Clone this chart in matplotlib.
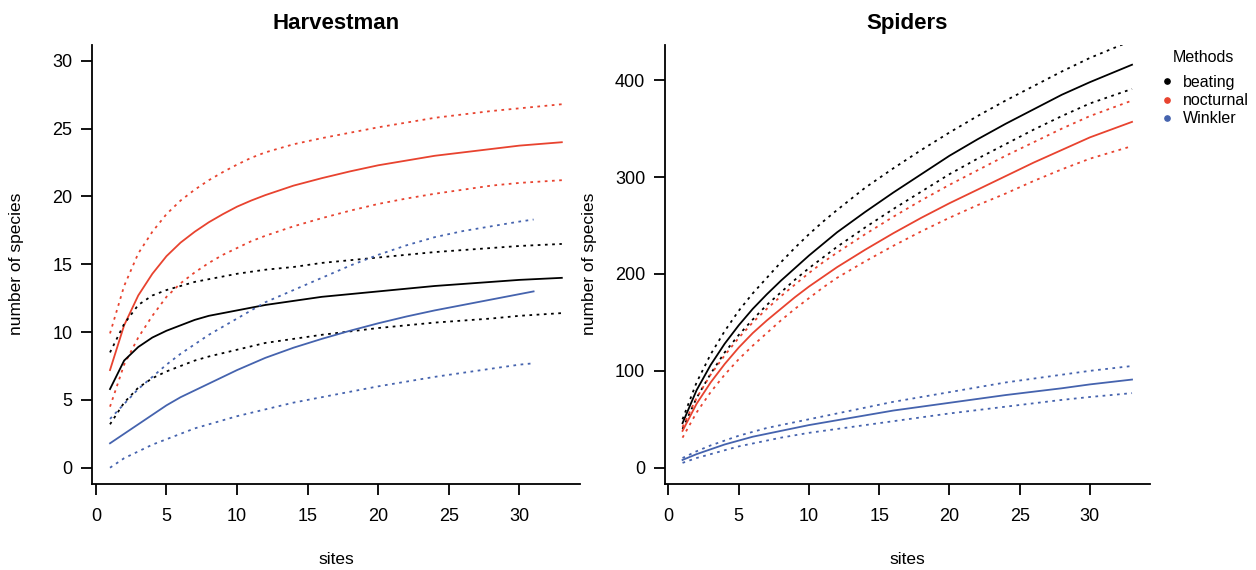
import matplotlib
matplotlib.use("Agg")
import matplotlib.pyplot as plt
from matplotlib.lines import Line2D

plt.rcParams["font.family"] = ["Liberation Sans", "DejaVu Sans"]

# ==========================================
# Data
# ==========================================

sites = [1, 2, 3, 4, 5, 6, 7, 8, 9, 10, 11, 12, 14, 16, 18, 20, 22, 24, 26, 28, 30, 33]
sites_harv_winkler = [1, 2, 3, 4, 5, 6, 7, 8, 9, 10, 11, 12, 14, 16, 18, 20, 22, 24, 26, 28, 30, 31]

methods = ["beating", "nocturnal", "Winkler"]

# Harvestman
harv_beating = [5.8, 7.9, 8.9, 9.6, 10.1, 10.5, 10.9, 11.2, 11.4, 11.6, 11.8, 12.0,
                12.3, 12.6, 12.8, 13.0, 13.2, 13.4, 13.55, 13.7, 13.85, 14.0]
harv_beating_hi = [8.5, 10.6, 12.0, 12.7, 13.1, 13.4, 13.7, 13.9, 14.1, 14.3, 14.45, 14.6,
                   14.8, 15.1, 15.3, 15.5, 15.7, 15.9, 16.05, 16.2, 16.35, 16.5]
harv_beating_lo = [3.2, 4.8, 5.9, 6.6, 7.1, 7.5, 7.9, 8.2, 8.45, 8.7, 8.95, 9.2,
                   9.5, 9.8, 10.05, 10.3, 10.5, 10.7, 10.85, 11.0, 11.2, 11.4]

harv_nocturnal = [7.2, 10.5, 12.7, 14.3, 15.6, 16.6, 17.4, 18.1, 18.7, 19.25, 19.7, 20.1,
                  20.8, 21.35, 21.85, 22.3, 22.65, 23.0, 23.25, 23.5, 23.75, 24.0]
harv_nocturnal_hi = [9.9, 13.4, 15.8, 17.4, 18.7, 19.7, 20.5, 21.2, 21.8, 22.35, 22.85, 23.25,
                     23.85, 24.3, 24.7, 25.1, 25.45, 25.8, 26.05, 26.3, 26.5, 26.8]
harv_nocturnal_lo = [4.5, 7.6, 9.6, 11.2, 12.6, 13.6, 14.4, 15.1, 15.7, 16.2, 16.7, 17.1,
                     17.8, 18.4, 18.95, 19.45, 19.85, 20.2, 20.5, 20.8, 21.0, 21.2]

harv_winkler = [1.8, 2.5, 3.2, 3.9, 4.6, 5.2, 5.7, 6.2, 6.7, 7.2, 7.65, 8.1,
                8.85, 9.5, 10.1, 10.65, 11.15, 11.6, 12.0, 12.4, 12.8, 13.0]
harv_winkler_hi = [3.6, 4.7, 5.8, 6.7, 7.6, 8.4, 9.1, 9.8, 10.4, 11.0, 11.6, 12.2,
                   13.1, 14.0, 14.9, 15.7, 16.4, 17.0, 17.45, 17.8, 18.15, 18.3]
harv_winkler_lo = [0.0, 0.7, 1.2, 1.7, 2.1, 2.5, 2.9, 3.2, 3.5, 3.8, 4.05, 4.3,
                   4.8, 5.2, 5.6, 6.0, 6.35, 6.7, 7.0, 7.3, 7.6, 7.7]

# Spiders
spid_beating = [46, 80, 106, 128, 147, 164, 179, 193, 206, 219, 231, 243,
                264, 284, 303, 322, 339, 355, 370, 385, 398, 416]
spid_beating_hi = [50, 88, 117, 141, 162, 180, 196, 212, 227, 241, 254, 266,
                   289, 309, 328, 346, 363, 379, 394, 409, 423, 441]
spid_beating_lo = [40, 72, 97, 119, 137, 153, 168, 181, 194, 206, 217, 228,
                   248, 267, 285, 303, 319, 334, 349, 363, 376, 391]

spid_nocturnal = [38, 66, 88, 107, 124, 139, 152, 164, 176, 187, 197, 207,
                  225, 242, 258, 273, 287, 301, 315, 328, 341, 357]
spid_nocturnal_hi = [42, 72, 96, 116, 134, 150, 164, 177, 189, 201, 212, 222,
                     241, 259, 276, 292, 307, 322, 336, 350, 363, 379]
spid_nocturnal_lo = [31, 57, 78, 96, 112, 126, 139, 152, 164, 175, 186, 196,
                     213, 229, 244, 258, 271, 283, 296, 308, 319, 332]

spid_winkler = [8, 14, 19, 24, 28, 32, 35, 38, 41, 44, 46.5, 49,
                54, 59, 63, 67, 71, 75, 78.5, 82, 86, 91]
spid_winkler_hi = [10, 17, 23, 28, 33, 37, 41, 44, 47, 50, 53, 56,
                   62, 68, 73, 78, 83, 88, 92, 96, 100, 105]
spid_winkler_lo = [5, 10, 14, 18, 22, 25, 28, 31, 33.5, 36, 38, 40,
                   44, 48, 52, 56, 59.5, 63, 66.5, 70, 73, 77]

colors = {"beating": "#000000", "nocturnal": "#E8432F", "Winkler": "#4563AE"}

# ==========================================
# Figure
# ==========================================

fig = plt.figure(figsize=(12.56, 5.70), dpi=100)

ax1 = fig.add_axes([0.0732, 0.1509, 0.3885, 0.7709])
ax2 = fig.add_axes([0.5291, 0.1509, 0.3865, 0.7709])

dotted = (0, (1.5, 2.5))


def draw_method(ax, x, mean, lo, hi, color):
    ax.plot(x, mean, color=color, lw=1.3)
    ax.plot(x, hi, color=color, lw=1.3, linestyle=dotted)
    ax.plot(x, lo, color=color, lw=1.3, linestyle=dotted)


def style_axes(ax, title, ylim, yticks):
    ax.set_xlim(-0.28, 34.28)
    ax.set_ylim(*ylim)
    ax.set_xticks([0, 5, 10, 15, 20, 25, 30])
    ax.set_yticks(yticks)
    for side in ["top", "right"]:
        ax.spines[side].set_visible(False)
    for side in ["left", "bottom"]:
        ax.spines[side].set_linewidth(1.3)
    ax.tick_params(direction="out", length=8, width=1.3, labelsize=13)
    ax.tick_params(axis="y", pad=6)
    ax.tick_params(axis="x", pad=9)
    ax.set_title(title, fontsize=16, fontweight="bold", y=1.048, va="center", pad=0)
    ax.set_xlabel("sites", fontsize=12.5)
    ax.set_ylabel("number of species", fontsize=12.5)
    ax.xaxis.set_label_coords(0.5, -0.155)
    ax.yaxis.set_label_coords(-0.14, 0.5)


# Harvestman panel
draw_method(ax1, sites, harv_nocturnal, harv_nocturnal_lo, harv_nocturnal_hi, colors["nocturnal"])
draw_method(ax1, sites, harv_beating, harv_beating_lo, harv_beating_hi, colors["beating"])
draw_method(ax1, sites_harv_winkler, harv_winkler, harv_winkler_lo, harv_winkler_hi, colors["Winkler"])
style_axes(ax1, "Harvestman", (-1.2, 31.2), [0, 5, 10, 15, 20, 25, 30])

# Spiders panel
draw_method(ax2, sites, spid_beating, spid_beating_lo, spid_beating_hi, colors["beating"])
draw_method(ax2, sites, spid_nocturnal, spid_nocturnal_lo, spid_nocturnal_hi, colors["nocturnal"])
draw_method(ax2, sites, spid_winkler, spid_winkler_lo, spid_winkler_hi, colors["Winkler"])
style_axes(ax2, "Spiders", (-16.8, 436.8), [0, 100, 200, 300, 400])

# Legend
fig.text(1173 / 1256, 1 - 57 / 570, "Methods", fontsize=11.5, va="center", ha="left")
handles = [
    Line2D([], [], marker="o", linestyle="none", markersize=3.8,
           markerfacecolor=colors[m], markeredgecolor=colors[m])
    for m in methods
]
fig.legend(
    handles, methods,
    loc="upper left",
    bbox_to_anchor=(1162 / 1256, 1 - 75 / 570),
    frameon=False,
    fontsize=11.5,
    handlelength=0.6,
    handletextpad=0.7,
    labelspacing=0.2,
    borderaxespad=0,
    borderpad=0,
)

fig.savefig("out.png", dpi=100)
